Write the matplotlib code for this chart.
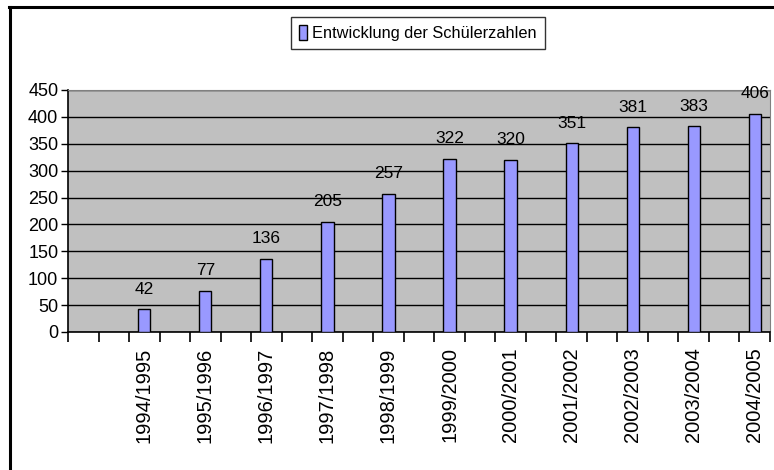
import matplotlib.pyplot as plt
from matplotlib.lines import Line2D
from matplotlib.patches import Patch

plt.rcParams['font.family'] = ['Liberation Sans', 'DejaVu Sans']

years = ['1994/1995', '1995/1996', '1996/1997', '1997/1998', '1998/1999', '1999/2000',
         '2000/2001', '2001/2002', '2002/2003', '2003/2004', '2004/2005']
students = [42, 77, 136, 205, 257, 322, 320, 351, 381, 383, 406]
series_name = 'Entwicklung der Schülerzahlen'

# the source sheet has an empty category before every school year (23 slots)
n_slots = 2 * len(years) + 1
pos = [2 * (i + 1) for i in range(len(years))]

fig = plt.figure(figsize=(7.74, 4.70), dpi=100)
ax = fig.add_axes([68 / 774, 138 / 470, 702 / 774, 242 / 470])
ax.set_facecolor('#C0C0C0')

bars = ax.bar(pos, students, width=0.4, color='#9999FF', edgecolor='black', linewidth=1, zorder=3)
for x, v in zip(pos, students):
    ax.annotate(str(v), (x, v), xytext=(0, 9), textcoords='offset points',
                ha='center', va='bottom', fontsize=12.5)

ax.set_xlim(-0.5, n_slots - 0.5)
ax.set_ylim(0, 450)
ax.set_yticks(range(0, 451, 50))
ax.yaxis.grid(True, color='black', linewidth=1, zorder=1)
ax.set_axisbelow(True)

ax.set_xticks([i - 0.5 for i in range(n_slots + 1)])
ax.set_xticklabels([])
ax.set_xticks(pos, minor=True)
ax.set_xticklabels(years, minor=True, rotation=90, fontsize=14.5)
ax.tick_params(axis='x', which='major', length=7, width=1.2, direction='out')
ax.tick_params(axis='x', which='minor', length=0, pad=11)
ax.tick_params(axis='y', length=5, width=1, labelsize=13, pad=2)

ax.spines['left'].set_linewidth(1.2)
ax.spines['bottom'].set_linewidth(1.2)
ax.spines['top'].set_color('#808080')
ax.spines['right'].set_color('#808080')

handle = Patch(facecolor='#9999FF', edgecolor='black', linewidth=1)
leg = fig.legend([handle], [series_name], loc='center', bbox_to_anchor=(418 / 774, 1 - 33 / 470),
                 fontsize=11.8, frameon=True, fancybox=False, handlelength=0.5, handleheight=1.0,
                 handletextpad=0.3, borderpad=0.5)
leg.get_frame().set_edgecolor('black')
leg.get_frame().set_linewidth(1)

# outer chart border (only left and top visible in the crop)
fig.add_artist(Line2D([10 / 774, 10 / 774], [0, 1 - 7 / 470], color='black', linewidth=2.2))
fig.add_artist(Line2D([9 / 774, 1], [1 - 7 / 470, 1 - 7 / 470], color='black', linewidth=2.2))

fig.savefig('out.png', dpi=100)
